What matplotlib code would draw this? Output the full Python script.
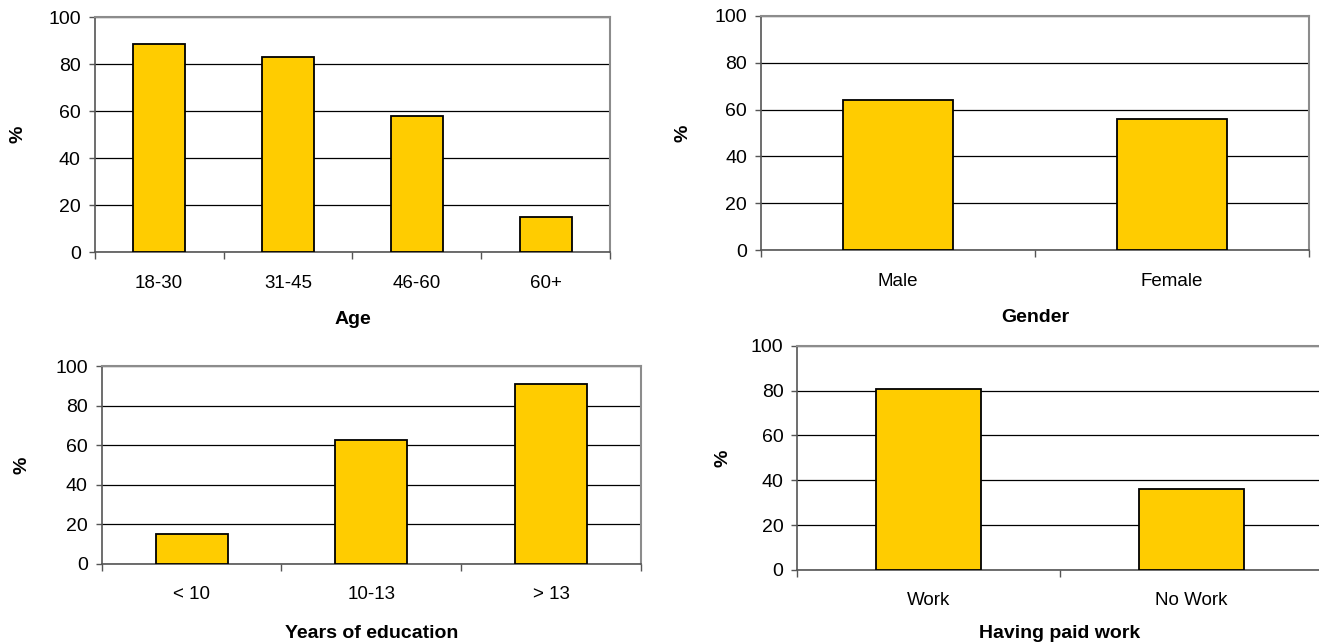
import numpy as np
import matplotlib.pyplot as plt

plt.rcParams['font.family'] = ['Liberation Sans', 'DejaVu Sans']

age_labels = ['18-30', '31-45', '46-60', '60+']
age_values = [88.5, 83, 58, 15]

gender_labels = ['Male', 'Female']
gender_values = [64, 56]

edu_labels = ['< 10', '10-13', '> 13']
edu_values = [15, 62.5, 91]

work_labels = ['Work', 'No Work']
work_values = [80.5, 36]

W, H = 1319, 644
BAR = '#FFCC00'


def panel(fig, box, labels, values, xlabel, ylab_px, xlab_px):
    # box is (left, top, right, bottom) in figure pixels
    left, top, right, bottom = box
    ax = fig.add_axes([left / W, 1 - bottom / H, (right - left) / W, (bottom - top) / H])
    x = np.arange(len(values))
    ax.bar(x, values, width=0.4, color=BAR, edgecolor='black', linewidth=1.3, zorder=3)
    ax.set_xlim(-0.5, len(values) - 0.5)
    ax.set_ylim(0, 100)
    ax.set_yticks(range(0, 101, 20))
    ax.set_axisbelow(True)
    ax.yaxis.grid(True, color='black', linewidth=0.9)

    ax.set_xticks(x)
    ax.set_xticklabels(labels)
    ax.set_xticks(np.arange(len(values) + 1) - 0.5, minor=True)
    ax.tick_params(axis='x', which='major', length=0, pad=16, labelsize=13.5)
    ax.tick_params(axis='x', which='minor', length=5, width=1, color='#555555')
    ax.tick_params(axis='y', length=4, width=1, color='#555555', pad=6, labelsize=14)

    for side in ('top', 'right'):
        ax.spines[side].set_color('#8c8c8c')
        ax.spines[side].set_linewidth(1.5)
    for side in ('left', 'bottom'):
        ax.spines[side].set_color('#555555')
        ax.spines[side].set_linewidth(1.2)

    ax.set_xlabel(xlabel, fontsize=14, fontweight='bold', va='center')
    ax.xaxis.set_label_coords(0.5, -(xlab_px - bottom) / (bottom - top))
    ax.set_ylabel('%', fontsize=14, fontweight='bold', va='center')
    ax.yaxis.set_label_coords(-(left - ylab_px) / (right - left), 0.5)
    return ax


fig = plt.figure(figsize=(W / 100, H / 100), dpi=100)

panel(fig, (94.7, 17.3, 610.3, 252.3), age_labels, age_values, 'Age', 18, 319)
panel(fig, (761, 15.7, 1308.7, 250.3), gender_labels, gender_values, 'Gender', 683, 318)
panel(fig, (101.7, 366.3, 641, 563.7), edu_labels, edu_values, 'Years of education', 21.7, 633)
panel(fig, (797.3, 345.7, 1322.7, 570), work_labels, work_values, 'Having paid work', 723, 633)

fig.savefig('out.png', dpi=100)
